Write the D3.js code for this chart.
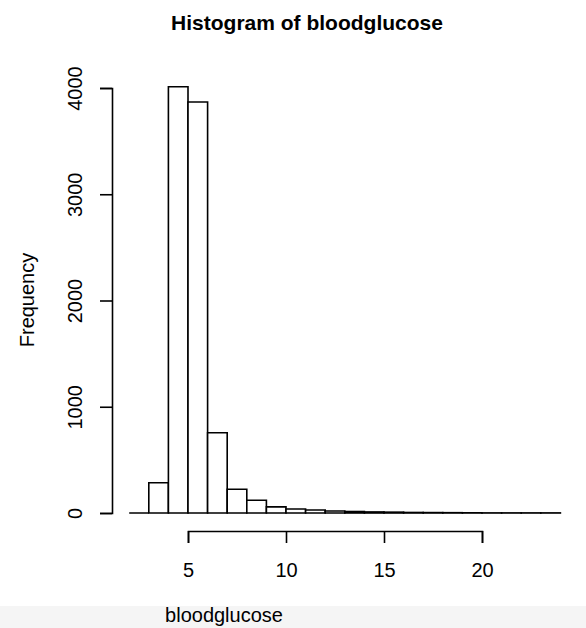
<!DOCTYPE html>
<html>
<head>
<meta charset="utf-8">
<script src="https://cdn.jsdelivr.net/npm/d3@7"></script>
<style>
body { margin: 0; background: #fff; }
svg { display: block; font-family: "Liberation Sans", Arial, sans-serif; }
</style>
</head>
<body>
<div id="chart"></div>
<script>
// bin lower edges (width 1) and counts
var binStart = [2, 3, 4, 5, 6, 7, 8, 9, 10, 11, 12, 13, 14, 15, 16, 17, 18, 19, 20, 21, 22, 23];
var counts = [0, 285, 4012, 3868, 756, 223, 120, 58, 38, 28, 19, 14, 10, 8, 5, 4, 3, 2, 1, 1, 1, 1];
var xTicks = [5, 10, 15, 20];
var yTicks = [0, 1000, 2000, 3000, 4000];

var width = 586,
    height = 628;

var svg = d3.select("#chart")
    .append("svg")
    .attr("width", width)
    .attr("height", height);

// light band at the bottom of the picture
svg.append("rect")
    .attr("x", 0).attr("y", 606)
    .attr("width", width).attr("height", height - 606)
    .attr("fill", "#f5f5f5");

var x = d3.scaleLinear().domain([5, 20]).range([188, 482]);
var y = d3.scaleLinear().domain([0, 4000]).range([513, 88]);

// bars as closed paths so empty bins still show their base line
svg.selectAll("path.bar")
    .data(binStart)
    .enter().append("path")
    .attr("class", "bar")
    .attr("d", function (d, i) {
        var x0 = x(d), x1 = x(d + 1), y0 = y(0), y1 = y(counts[i]);
        return "M" + x0 + "," + y0 + "V" + y1 + "H" + x1 + "V" + y0 + "Z";
    })
    .attr("fill", "#fff")
    .attr("stroke", "#000")
    .attr("stroke-width", 1.6);

// x axis
var xg = svg.append("g")
    .attr("transform", "translate(0,531)")
    .attr("font-size", 20)
    .call(d3.axisBottom(x).tickValues(xTicks).tickSizeOuter(0).tickSize(12).tickPadding(20));
xg.attr("font-size", 20).attr("font-family", "Liberation Sans, Arial, sans-serif");
xg.select(".domain").attr("stroke-width", 1.6);
xg.selectAll(".tick line").attr("stroke-width", 1.6);
xg.selectAll("text").attr("fill", "#000");

// y axis
var yg = svg.append("g")
    .attr("transform", "translate(112,0)")
    .call(d3.axisLeft(y).tickValues(yTicks).tickFormat(d3.format("d")).tickSizeOuter(0).tickSize(12));
yg.attr("font-size", 20).attr("font-family", "Liberation Sans, Arial, sans-serif");
yg.select(".domain").attr("stroke-width", 1.6);
yg.selectAll(".tick line").attr("stroke-width", 1.6);
yg.selectAll("text")
    .attr("fill", "#000")
    .attr("x", null).attr("dy", null)
    .attr("text-anchor", "middle")
    .attr("transform", "translate(-30,0) rotate(-90)");

svg.append("text")
    .attr("x", 307).attr("y", 30)
    .attr("text-anchor", "middle")
    .attr("font-size", 21).attr("font-weight", "bold")
    .text("Histogram of bloodglucose");

svg.append("text")
    .attr("x", 224).attr("y", 622)
    .attr("text-anchor", "middle")
    .attr("font-size", 20)
    .text("bloodglucose");

svg.append("text")
    .attr("transform", "translate(34,300) rotate(-90)")
    .attr("text-anchor", "middle")
    .attr("font-size", 20)
    .text("Frequency");
</script>
</body>
</html>
